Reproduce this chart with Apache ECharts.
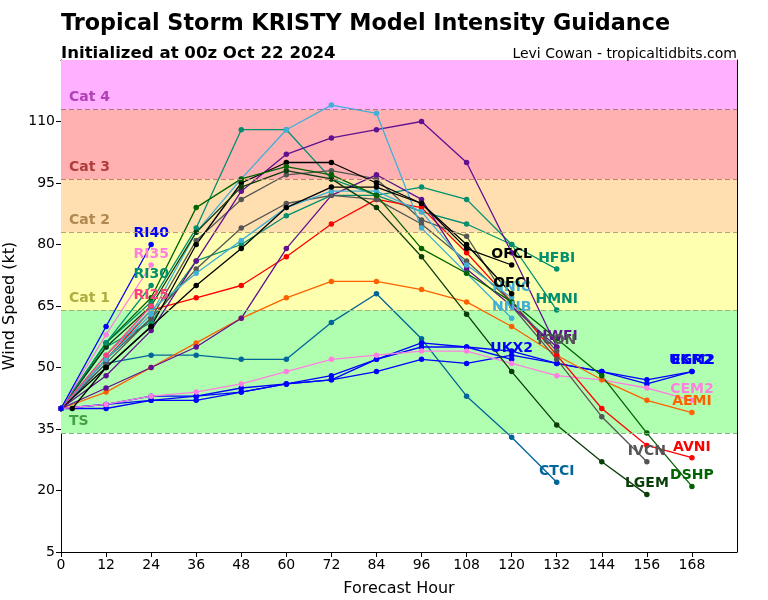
<!DOCTYPE html>
<html>
<head>
<meta charset="utf-8">
<script src="https://cdn.jsdelivr.net/npm/echarts@6/dist/echarts.min.js"></script>
<style>html,body{margin:0;padding:0;background:#fff}#c{width:768px;height:600px}</style>
</head>
<body>
<div id="c"></div>
<script>
// ---- data ----
const hours = [0,12,24,36,48,60,72,84,96,108,120,132,144,156,168];
const ofciHours = [3,12,24,36,48,60,72,84,96,108,120];
const yTicks = [5,20,35,50,65,80,95,110];
const xTicks = [0,12,24,36,48,60,72,84,96,108,120,132,144,156,168];

const HMNI = [40,56,66,84,108,108,96,92,94,91,80,64];
const HFBI = [40,55,61,76,80,87,92,92,88,85,80,74];
const CTCI = [40,51,53,53,52,52,61,68,57,43,33,22];
const UKX2 = [40,41,42,43,45,46,48,52,56,55,52];
const UKM2 = [40,40,42,42,44,46,47,49,52,51,53,51,49,46,49];
const EGR2 = [40,41,43,43,44,46,47,52,55,55,54,51,49,47,49];
const CEM2 = [40,41,43,44,46,49,52,53,54,54,51,48,47,45,42];
const AEMI = [40,44,50,56,62,67,71,71,69,66,60,53,47,42,39];
const AVNI = [40,52,64,67,70,77,85,91,89,78,66,53,40,31,28];
const IVCN = [40,51,62,81,91,97,98,96,86,82,65,52,38,27];
const HMON = [40,45,50,55,62,79,92,97,91,74,65,55];
const HWFI = [40,48,59,76,93,102,106,108,110,100,78,55];
const ICON = [40,52,62,74,84,90,92,91,85,76,66,54];
const NNIC = [40,53,64,73,81,89,93,93,88,75,67];
const NNIB = [40,52,63,83,96,108,114,112,84,73,62];
const OFCI = [40,50,60,80,95,100,100,95,90,80,68];
const OFCL = [40,50,60,70,79,89,94,94,90,79,75];
const LGEM = [40,55,65,83,94,98,96,89,77,63,49,36,27,19];
const DSHP = [40,56,67,89,96,99,97,92,79,73,66,57,48,34,21];
const RI25 = [40,53,65];
const RI30 = [40,56,70];
const RI35 = [40,58,75];
const RI40 = [40,60,80];

const bandNames = ['TS','Cat 1','Cat 2','Cat 3','Cat 4'];
const bandEdges = [34,64,83,96,113,125];

// ---- styles ----
const FONT = 'DejaVu Sans';
const bandFill = ['#b0ffb0','#ffffb0','#ffdfb0','#ffb0b0','#ffb0ff'];
const bandText = ['#44a044','#aeae40','#b08850','#b03c3c','#b040b8'];
const edgeColor = ['#78b878','#a8b070','#c0a070','#c08070','#b07090'];

// [label, values, hours, colour, show end label]
const models = [
  ['HMNI', HMNI, hours, '#009070', true],
  ['HFBI', HFBI, hours, '#009070', true],
  ['CTCI', CTCI, hours, '#006699', true],
  ['UKX2', UKX2, hours, '#0000ff', true],
  ['UKM2', UKM2, hours, '#0000ff', true],
  ['EGR2', EGR2, hours, '#0000ff', true],
  ['CEM2', CEM2, hours, '#ff80e0', true],
  ['AEMI', AEMI, hours, '#ff6000', true],
  ['AVNI', AVNI, hours, '#ff0000', true],
  ['IVCN', IVCN, hours, '#555555', true],
  ['HMON', HMON, hours, '#601090', false],
  ['HWFI', HWFI, hours, '#601090', true],
  ['ICON', ICON, hours, '#555555', true],
  ['NNIC', NNIC, hours, '#40b0d8', true],
  ['NNIB', NNIB, hours, '#40b0d8', true],
  ['OFCI', OFCI, ofciHours, '#000000', true],
  ['OFCL', OFCL, hours, '#000000', true],
  ['LGEM', LGEM, hours, '#0b3d0b', true],
  ['DSHP', DSHP, hours, '#006400', true],
  ['RI25', RI25, hours, '#ff4080', true],
  ['RI30', RI30, hours, '#009070', true],
  ['RI35', RI35, hours, '#ff80e0', true],
  ['RI40', RI40, hours, '#0000ff', true]
];

const series = [];
// background bands
series.push({
  type: 'line', data: [], silent: true, z: 1,
  markArea: {
    silent: true,
    data: bandNames.map((n, i) => [
      { yAxis: bandEdges[i], itemStyle: { color: bandFill[i] },
        label: { show: true, formatter: n, position: 'insideBottomLeft', distance: 5, offset: [3, 0],
                 color: bandText[i], fontFamily: FONT, fontWeight: 'bold', fontSize: 14 } },
      { yAxis: bandEdges[i + 1] }
    ])
  },
  markLine: {
    silent: true, symbol: 'none', animation: false,
    label: { show: false },
    data: bandEdges.slice(0, 5).map((v, i) => ({ yAxis: v, lineStyle: { color: edgeColor[i], type: [5, 3], width: 1.2 } }))
  }
});

models.forEach(([name, vals, hrs, color, showLbl]) => {
  const data = vals.map((v, i) => {
    const item = { value: [hrs[i], v] };
    if (showLbl && i === vals.length - 1) {
      item.label = { show: true, formatter: name };
    }
    return item;
  });
  series.push({
    name, type: 'line', data, z: 3,
    symbol: 'circle', symbolSize: 5.5, showSymbol: true,
    lineStyle: { color, width: 1.3 },
    itemStyle: { color },
    label: { show: false, position: 'top', distance: 1, color, fontFamily: FONT, fontWeight: 'bold', fontSize: 14 },
    emphasis: { disabled: true },
    animation: false
  });
});

const chart = echarts.init(document.getElementById('c'), null, { renderer: 'canvas' });
chart.setOption({
  animation: false,
  backgroundColor: '#fff',
  textStyle: { fontFamily: FONT },
  title: [
    { text: 'Tropical Storm KRISTY Model Intensity Guidance', left: 56, top: 8,
      textStyle: { fontFamily: FONT, fontWeight: 'bold', fontSize: 22.3, color: '#000' } },
    { text: 'Initialized at 00z Oct 22 2024', left: 56, top: 40,
      textStyle: { fontFamily: FONT, fontWeight: 'bold', fontSize: 16.6, color: '#000' } },
    { text: 'Levi Cowan - tropicaltidbits.com', right: 26, top: 42,
      textStyle: { fontFamily: FONT, fontWeight: 'normal', fontSize: 14, color: '#000' } }
  ],
  grid: { left: 61, right: 31, top: 60, bottom: 48, containLabel: false, outerBoundsMode: 'none' },
  xAxis: [{
    type: 'value', min: 0, max: 180, interval: 12,
    name: 'Forecast Hour', nameLocation: 'middle', nameGap: 29,
    nameTextStyle: { fontFamily: FONT, fontSize: 16, color: '#000' },
    axisLine: { show: true, onZero: false, lineStyle: { color: '#000', width: 1 } },
    axisTick: { show: true, length: 5, lineStyle: { color: '#000' } },
    axisLabel: { color: '#000', fontFamily: FONT, fontSize: 14, margin: 6, showMaxLabel: false,
      formatter: v => xTicks.indexOf(v) >= 0 ? String(v) : '' },
    splitLine: { show: false }
  }, {
    type: 'value', min: 0, max: 180, position: 'top',
    axisLine: { show: true, onZero: false, lineStyle: { color: '#000', width: 1 } },
    axisTick: { show: false }, axisLabel: { show: false }, splitLine: { show: false }
  }],
  yAxis: [{
    type: 'value', min: 5, max: 125, interval: 15,
    name: 'Wind Speed (kt)', nameLocation: 'middle', nameGap: 40, nameRotate: 90,
    nameTextStyle: { fontFamily: FONT, fontSize: 16, color: '#000' },
    axisLine: { show: true, onZero: false, lineStyle: { color: '#000', width: 1 } },
    axisTick: { show: true, length: 5, lineStyle: { color: '#000' } },
    axisLabel: { color: '#000', fontFamily: FONT, fontSize: 14, margin: 6, showMaxLabel: false,
      formatter: v => yTicks.indexOf(v) >= 0 ? String(v) : '' },
    splitLine: { show: false }
  }, {
    type: 'value', min: 5, max: 125, position: 'right',
    axisLine: { show: true, onZero: false, lineStyle: { color: '#000', width: 1 } },
    axisTick: { show: false }, axisLabel: { show: false }, splitLine: { show: false }
  }],
  series
});
</script>
</body>
</html>
